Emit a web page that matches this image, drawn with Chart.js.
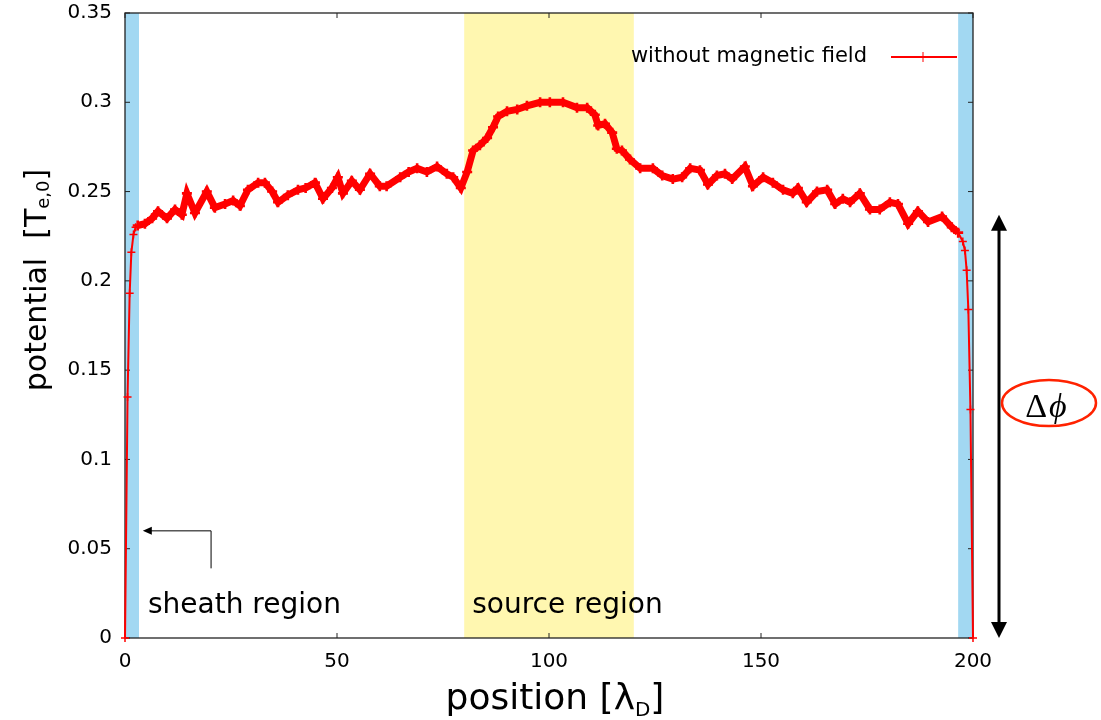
<!DOCTYPE html>
<html>
<head>
<meta charset="utf-8">
<title>potential profile</title>
<script src="https://cdn.jsdelivr.net/npm/chart.js@4.4.0/dist/chart.umd.min.js"></script>
<style>
  html, body { margin: 0; padding: 0; background: #fff; }
  #wrap { width: 1101px; height: 720px; }
</style>
</head>
<body>
<div id="wrap"><canvas id="potentialChart" width="1101" height="720"></canvas></div>
<script>
// position in Debye lengths
const positions = [
  0, 0.6, 1.1, 1.5, 2.0, 2.5, 3.0, 4.7, 6.4, 7.8, 9.9, 11.8, 13.4, 14.6, 16.5,
  19.3, 21.2, 23.6, 25.5, 27.1, 29.0, 31.4, 33.0, 34.7, 36.1, 38.4, 40.8, 42.6,
  44.8, 46.7, 48.8, 50.2, 51.4, 53.5, 55.4, 57.8, 60.1, 61.7, 64.9, 66.9, 68.9,
  71.2, 73.6, 75.9, 77.4, 79.2, 80.7, 82.1, 83.7, 85.4, 86.8, 88.0, 90.1, 92.5,
  94.8, 97.9, 100.2, 103.3, 106.6, 109.0, 110.8, 111.6, 113.2, 114.9, 116.0,
  117.2, 119.1, 121.5, 124.5, 126.7, 129.2, 131.4, 133.3, 135.6, 137.5, 139.6,
  141.5, 143.2, 146.2, 148.1, 150.5, 152.8, 155.2, 157.5, 158.7, 160.8, 163.2,
  165.6, 167.5, 169.3, 171.0, 173.3, 175.7, 178.0, 180.4, 182.3, 184.7, 187.0,
  189.4, 192.7, 195.0, 196.5, 197.6, 198.1, 198.5, 198.9, 199.4, 200
];
// potential in units of Te,0
const potential = [
  0, 0.135, 0.193, 0.216, 0.226, 0.230, 0.231, 0.232, 0.235, 0.239, 0.235, 0.240, 0.237, 0.249, 0.238,
  0.250, 0.241, 0.243, 0.245, 0.242, 0.251, 0.255, 0.255, 0.250, 0.244, 0.248, 0.251, 0.252,
  0.255, 0.246, 0.252, 0.258, 0.249, 0.256, 0.251, 0.260, 0.253, 0.253, 0.258, 0.261, 0.263,
  0.261, 0.264, 0.260, 0.258, 0.252, 0.261, 0.273, 0.276, 0.280, 0.286, 0.292, 0.295, 0.296,
  0.298, 0.300, 0.300, 0.300, 0.297, 0.297, 0.293, 0.287, 0.288, 0.283, 0.274,
  0.273, 0.268, 0.263, 0.263, 0.259, 0.257, 0.258, 0.263, 0.262, 0.254, 0.259,
  0.260, 0.257, 0.264, 0.253, 0.258, 0.255, 0.251, 0.249, 0.252, 0.244, 0.250,
  0.251, 0.243, 0.246, 0.244, 0.249, 0.240, 0.240, 0.244, 0.243, 0.232, 0.239,
  0.233, 0.236, 0.230, 0.227, 0.222, 0.217, 0.206, 0.184, 0.128, 0
];

const xTickValues = [0, 50, 100, 150, 200];
const xTickLabels = ['0', '50', '100', '150', '200'];
const yTickValues = [0, 0.05, 0.1, 0.15, 0.2, 0.25, 0.3, 0.35];
const yTickLabels = ['0', '0.05', '0.1', '0.15', '0.2', '0.25', '0.3', '0.35'];

const sheathRegions = [[0, 3.3], [196.5, 200]];
const sourceRegion = [80, 120];
const seriesLabel = 'without magnetic field';

const SANS = '"DejaVu Sans", sans-serif';
const SERIF = '"Liberation Serif", "DejaVu Serif", serif';
const inSheath = x => x < 3 || x > 197;

// text with optional subscript pieces, laid out left to right from the centre
function drawParts(ctx, parts, cx, baseline) {
  let total = 0;
  parts.forEach(p => {
    ctx.font = p.size + 'px ' + SANS;
    p.w = ctx.measureText(p.text).width;
    total += p.w;
  });
  let x = cx - total / 2;
  ctx.textAlign = 'left';
  ctx.textBaseline = 'alphabetic';
  parts.forEach(p => {
    ctx.font = p.size + 'px ' + SANS;
    ctx.fillText(p.text, x, baseline + (p.dy || 0));
    x += p.w;
  });
}

function arrowHead(ctx, x, y, dx, dy, len, half) {
  ctx.beginPath();
  ctx.moveTo(x, y);
  ctx.lineTo(x - dx * len - dy * half, y - dy * len + dx * half);
  ctx.lineTo(x - dx * len + dy * half, y - dy * len - dx * half);
  ctx.closePath();
  ctx.fill();
}

const decorations = {
  id: 'decorations',
  beforeDatasetsDraw(chart) {
    const { ctx, chartArea: a, scales: { x, y } } = chart;
    ctx.save();
    ctx.fillStyle = '#fff7b0';
    ctx.fillRect(x.getPixelForValue(sourceRegion[0]), a.top,
      x.getPixelForValue(sourceRegion[1]) - x.getPixelForValue(sourceRegion[0]), a.bottom - a.top);
    ctx.fillStyle = '#a2d8f2';
    sheathRegions.forEach(r => {
      const x0 = x.getPixelForValue(r[0]);
      ctx.fillRect(x0, a.top, x.getPixelForValue(r[1]) - x0, a.bottom - a.top);
    });

    // frame with inward ticks
    ctx.strokeStyle = '#222';
    ctx.lineWidth = 1.3;
    ctx.strokeRect(a.left, a.top, a.right - a.left, a.bottom - a.top);
    ctx.lineWidth = 1;
    ctx.beginPath();
    yTickValues.forEach(v => {
      const py = y.getPixelForValue(v);
      ctx.moveTo(a.left, py); ctx.lineTo(a.left + 5, py);
      ctx.moveTo(a.right, py); ctx.lineTo(a.right - 5, py);
    });
    xTickValues.forEach(v => {
      const px = x.getPixelForValue(v);
      ctx.moveTo(px, a.bottom); ctx.lineTo(px, a.bottom - 5);
      ctx.moveTo(px, a.top); ctx.lineTo(px, a.top + 5);
    });
    ctx.stroke();
    ctx.restore();
  },
  afterDraw(chart) {
    const { ctx, chartArea: a, scales: { x, y } } = chart;
    ctx.save();
    ctx.fillStyle = '#000';

    // key
    const ky = a.top + 44;
    ctx.font = '21px ' + SANS;
    ctx.textAlign = 'right';
    ctx.textBaseline = 'middle';
    ctx.fillText(seriesLabel, a.right - 106, ky);
    ctx.strokeStyle = '#ff0000';
    ctx.lineWidth = 2;
    ctx.beginPath();
    ctx.moveTo(a.right - 82, ky); ctx.lineTo(a.right - 16, ky);
    ctx.stroke();
    ctx.lineWidth = 1;
    ctx.beginPath();
    ctx.moveTo(a.right - 50, ky - 5); ctx.lineTo(a.right - 50, ky + 5);
    ctx.stroke();

    // region labels
    ctx.font = '28px ' + SANS;
    ctx.textAlign = 'left';
    ctx.textBaseline = 'alphabetic';
    ctx.fillText('sheath region', a.left + 23, a.bottom - 25);
    ctx.fillText('source region', x.getPixelForValue(sourceRegion[0]) + 8, a.bottom - 25);

    // pointer to the left sheath
    ctx.strokeStyle = '#000';
    ctx.lineWidth = 1;
    const tipX = x.getPixelForValue(4.2);
    const elbowX = x.getPixelForValue(20.3);
    const ay = y.getPixelForValue(0.06);
    ctx.beginPath();
    ctx.moveTo(elbowX, y.getPixelForValue(0.039));
    ctx.lineTo(elbowX, ay);
    ctx.lineTo(tipX + 6, ay);
    ctx.stroke();
    arrowHead(ctx, tipX, ay, -1, 0, 9, 4);

    // potential drop arrow
    const dX = a.right + 26;
    const topY = y.getPixelForValue(0.237);
    const botY = y.getPixelForValue(0);
    ctx.lineWidth = 3;
    ctx.beginPath();
    ctx.moveTo(dX, topY + 10); ctx.lineTo(dX, botY - 10);
    ctx.stroke();
    arrowHead(ctx, dX, topY, 0, -1, 16, 8);
    arrowHead(ctx, dX, botY, 0, 1, 16, 8);

    // encircled delta phi
    const ex = a.right + 76, ey = y.getPixelForValue(0.1316);
    ctx.strokeStyle = '#ff2200';
    ctx.lineWidth = 2.5;
    ctx.beginPath();
    ctx.ellipse(ex, ey, 47, 23, 0, 0, Math.PI * 2);
    ctx.stroke();
    ctx.textBaseline = 'alphabetic';
    ctx.font = '34px ' + SERIF;
    ctx.textAlign = 'right';
    ctx.fillText('\u0394', ex - 2, ey + 14);
    ctx.font = 'italic 34px ' + SERIF;
    ctx.textAlign = 'left';
    ctx.fillText('\u03D5', ex, ey + 14);

    // axis titles
    drawParts(ctx, [
      { text: 'position [\u03BB', size: 36 },
      { text: 'D', size: 20, dy: 7 },
      { text: ']', size: 36 }
    ], 555, 709);

    ctx.translate(46, 280);
    ctx.rotate(-Math.PI / 2);
    drawParts(ctx, [
      { text: 'potential  [T', size: 30 },
      { text: 'e,0', size: 18, dy: 3 },
      { text: ']', size: 30 }
    ], 0, 0);
    ctx.restore();
  }
};

new Chart(document.getElementById('potentialChart').getContext('2d'), {
  type: 'line',
  data: {
    datasets: [{
      label: seriesLabel,
      data: positions.map((p, i) => ({ x: p, y: potential[i] })),
      borderColor: '#ff0000',
      backgroundColor: '#ff0000',
      pointStyle: 'cross',
      pointRadius: ctx => inSheath(positions[ctx.dataIndex]) ? 4 : 5,
      pointBorderColor: '#ff0000',
      pointBorderWidth: ctx => inSheath(positions[ctx.dataIndex]) ? 1.5 : 2.6,
      tension: 0,
      clip: false,
      segment: {
        borderWidth: ctx => (inSheath(ctx.p0.parsed.x) || inSheath(ctx.p1.parsed.x)) ? 2 : 7
      }
    }]
  },
  options: {
    responsive: false,
    animation: false,
    devicePixelRatio: 1,
    layout: { padding: { left: 0, right: 128, top: 13, bottom: 0 } },
    plugins: {
      legend: { display: false },
      tooltip: { enabled: false }
    },
    scales: {
      x: {
        type: 'linear',
        min: 0,
        max: 200,
        afterFit: s => { s.height = 82; s.paddingLeft = 0; s.paddingRight = 0; },
        afterBuildTicks: s => { s.ticks = xTickValues.map(v => ({ value: v })); },
        grid: { display: false, drawTicks: false },
        border: { display: false },
        ticks: {
          padding: 12,
          color: '#000',
          font: { family: SANS, size: 20 },
          maxRotation: 0,
          callback: (v, i) => xTickLabels[i]
        }
      },
      y: {
        type: 'linear',
        min: 0,
        max: 0.35,
        afterFit: s => { s.width = 125; s.paddingTop = 0; s.paddingBottom = 0; },
        afterBuildTicks: s => { s.ticks = yTickValues.map(v => ({ value: v })); },
        grid: { display: false, drawTicks: false },
        border: { display: false },
        ticks: {
          padding: 13,
          color: '#000',
          font: { family: SANS, size: 20 },
          callback: (v, i) => yTickLabels[i]
        }
      }
    }
  },
  plugins: [decorations]
});
</script>
</body>
</html>
